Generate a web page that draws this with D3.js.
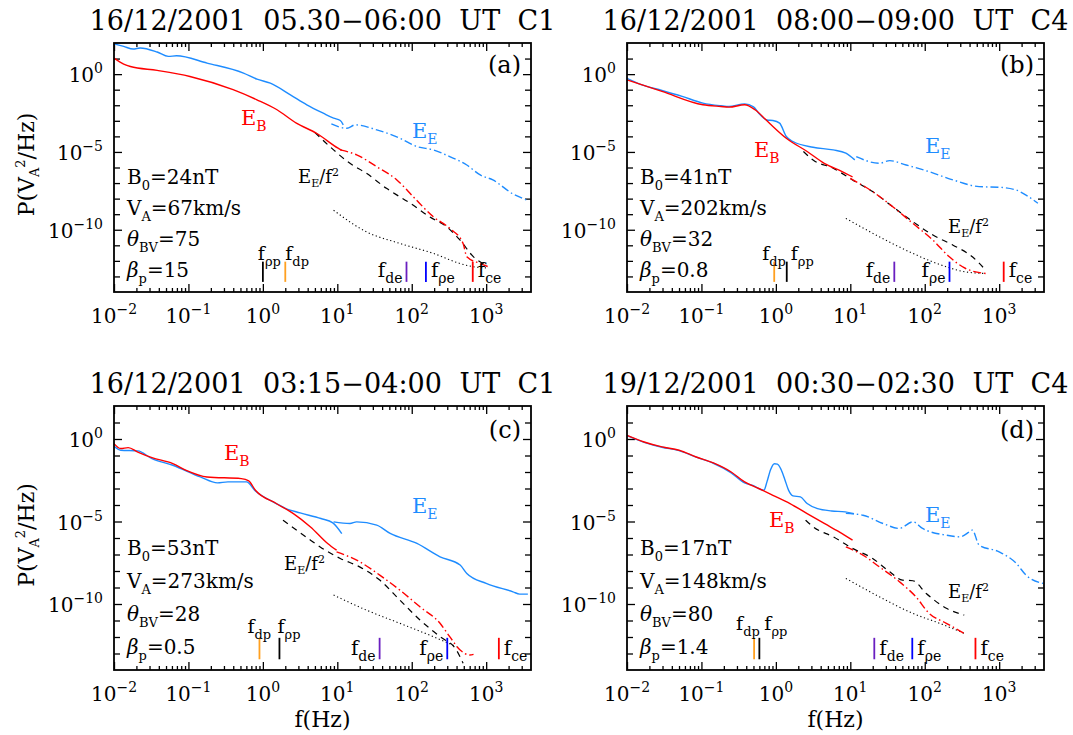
<!DOCTYPE html>
<html>
<head>
<meta charset="utf-8">
<script src="https://cdn.jsdelivr.net/npm/d3@7"></script>
<style>
  body { margin: 0; background: #fff; }
  svg { display: block; font-family: "DejaVu Serif", "Liberation Serif", serif; }
</style>
</head>
<body>
<div id="chart"></div>
<script>
"use strict";

/* global d3 */

// ---- data: pairs of [log10 f (Hz), log10 P (V_A^2/Hz)] ----

const titles = [
  "16/12/2001  05.30\u221206:00  UT  C1",
  "16/12/2001  08:00\u221209:00  UT  C4",
  "16/12/2001  03:15\u221204:00  UT  C1",
  "19/12/2001  00:30\u221202:30  UT  C4"
];
const tags = ["(a)", "(b)", "(c)", "(d)"];

const b0 = ["24", "41", "53", "17"];
const va = ["67", "202", "273", "148"];
const thetaBV = ["75", "32", "28", "80"];
const betaP = ["15", "0.8", "0.5", "1.4"];

// characteristic frequencies (Hz), order: f_rho_p, f_dp, f_de, f_rho_e, f_ce
const freqNames = ["\u03c1p", "dp", "de", "\u03c1e", "ce"];
const freqA = [1.0, 2.0, 85, 155, 660];
const freqB = [1.4, 0.95, 39, 215, 1150];
const freqC = [1.67, 0.9, 37, 300, 1480];
const freqD = [0.6, 0.51, 21, 68, 480];

// panel (a)
const ebSolidA = [[-2, 1.03], [-1.87, 0.65], [-1.78, 0.49], [-1.42, 0.24], [-0.98, -0.15], [-0.4, -1.0],
  [-0.08, -1.65], [0.19, -2.29], [0.45, -3.15], [0.72, -3.8], [1.01, -4.76], [1.06, -4.9]];
const ebDashA = [[1.04, -4.87], [1.26, -5.19], [1.53, -5.95], [1.8, -6.8], [2.02, -7.88], [2.29, -9.17],
  [2.51, -9.91], [2.69, -10.88], [2.74, -11.74], [2.92, -12.17], [3.03, -12.38]];
const eeSolidA = [[-2, 1.95], [-1.87, 1.78], [-1.74, 1.61], [-1.65, 1.68], [-1.42, 1.42], [-1.27, 1.14],
  [-1.16, 1.18], [-0.75, 0.71], [-0.26, 0.07], [-0.08, -0.32], [0.1, -0.58], [0.37, -1.33], [0.59, -1.97],
  [0.81, -2.51], [0.95, -2.83], [1.04, -2.98], [1.08, -3.26]];
const eeHighA = [[0.92, -3.2], [1.13, -3.48], [1.24, -3.26], [1.53, -3.58], [1.84, -4.12], [2.07, -4.66],
  [2.29, -4.87], [2.51, -5.3], [2.74, -5.84], [2.92, -6.48], [3.09, -6.8], [3.36, -7.7], [3.55, -8.1]];
const ef2A = [[0.7, -3.75], [0.95, -4.87], [1.17, -5.73], [1.39, -6.37], [1.66, -7.34], [1.98, -8.3],
  [2.24, -9.17], [2.47, -9.81], [2.65, -10.67], [2.83, -11.74], [3.0, -12.27]];
const noiseA = [[0.95, -8.75], [1.39, -10.13], [1.84, -10.88], [2.29, -11.52], [2.65, -12.17], [2.83, -12.38],
  [3.0, -12.45]];

// panel (b)
const ebSolidB = [[-2, -0.37], [-1.53, -1.11], [-0.98, -1.97], [-0.74, -2.08], [-0.63, -2.12], [-0.42, -1.97],
  [-0.28, -2.29], [-0.14, -2.9], [-0.04, -3.36], [0.14, -4.12], [0.42, -4.97], [0.65, -5.73], [0.89, -6.26],
  [1.03, -6.6]];
const ebDashB = [[1.0, -6.7], [1.3, -7.55], [1.57, -8.52], [1.84, -9.59], [2.11, -10.67], [2.33, -11.74],
  [2.55, -12.49], [2.82, -12.81]];
const eeSolidB = [[-2, -0.28], [-1.81, -0.68], [-1.53, -1.05], [-1.26, -1.43], [-0.98, -1.86], [-0.74, -2.03],
  [-0.63, -2.08], [-0.42, -1.91], [-0.3, -2.1], [-0.23, -2.51], [-0.12, -2.95], [-0.04, -2.98], [0.05, -3.15],
  [0.14, -4.01], [0.23, -4.33], [0.5, -4.7], [0.77, -4.87], [0.94, -5.08], [1.06, -5.51]];
const eeHighB = [[1.08, -5.3], [1.39, -5.73], [1.53, -5.56], [1.75, -5.84], [2.06, -6.27], [2.38, -6.8],
  [2.73, -7.23], [3.0, -7.27], [3.23, -7.45], [3.36, -7.77], [3.52, -8.3]];
const ef2B = [[0.37, -4.97], [0.5, -5.52], [0.77, -6.05], [1.03, -6.8], [1.3, -7.55], [1.57, -8.52],
  [1.84, -9.48], [2.11, -10.34], [2.38, -10.99], [2.64, -11.74], [2.82, -12.6]];
const noiseB = [[0.94, -9.27], [1.39, -10.45], [1.84, -11.52], [2.29, -12.38], [2.55, -12.71], [2.82, -12.81]];

// panel (c)
const ebSolidC = [[-2, -0.28], [-1.91, -0.58], [-1.81, -0.52], [-1.68, -0.79], [-1.49, -1.13], [-1.21, -1.49],
  [-1.03, -1.9], [-0.75, -2.3], [-0.29, -2.4], [-0.19, -2.54], [-0.1, -3.11], [0.18, -3.91], [0.41, -4.52],
  [0.64, -5.33], [0.87, -6.33], [0.99, -6.74]];
const ebDashC = [[0.99, -6.84], [1.3, -7.44], [1.57, -8.25], [1.84, -9.16], [2.11, -10.17], [2.38, -11.17],
  [2.51, -11.98], [2.65, -12.79], [2.78, -13.09], [2.83, -13.05]];
const eeSolidC = [[-2, -0.44], [-1.91, -0.68], [-1.68, -0.72], [-1.49, -1.19], [-1.21, -1.59], [-0.84, -2.3],
  [-0.61, -2.66], [-0.47, -2.6], [-0.22, -2.6], [-0.1, -3.15], [0.18, -3.91], [0.31, -4.22], [0.5, -4.48],
  [0.78, -4.82], [0.94, -5.08], [1.06, -5.73]];
const eeHighC = [[0.95, -5.02], [1.17, -5.12], [1.26, -5.02], [1.53, -5.22], [1.71, -5.72], [2.07, -6.33],
  [2.38, -7.14], [2.65, -7.64], [2.74, -8.15], [3.0, -8.75], [3.36, -9.26], [3.45, -9.4], [3.56, -9.4]];
const ef2C = [[0.27, -4.92], [0.64, -6.13], [0.77, -6.54], [1.04, -7.24], [1.3, -7.75], [1.57, -8.55],
  [1.84, -9.76], [2.11, -10.97], [2.38, -11.98], [2.6, -12.79], [2.69, -13.59]];
const noiseC = [[0.95, -9.46], [1.39, -10.37], [1.84, -11.17], [2.29, -11.98], [2.6, -12.59]];

// panel (d)
const ebSolidD = [[-2, 0.22], [-1.77, -0.18], [-1.53, -0.48], [-1.3, -0.68], [-1.07, -1.09], [-0.84, -1.45],
  [-0.6, -2.0], [-0.42, -2.6], [-0.23, -3.0], [-0.04, -3.41], [0.19, -3.91], [0.42, -4.52], [0.65, -5.12],
  [0.89, -5.73], [1.03, -6.13]];
const ebDashD = [[0.94, -6.54], [1.17, -7.04], [1.39, -7.75], [1.66, -8.65], [1.88, -9.56], [2.06, -10.57],
  [2.29, -11.17], [2.53, -11.78]];
const eeSolidD = [[-2, 0.2], [-1.77, -0.2], [-1.53, -0.5], [-1.3, -0.7], [-1.07, -1.1], [-0.84, -1.47],
  [-0.6, -2.05], [-0.42, -2.66], [-0.32, -2.8], [-0.16, -3.1], [-0.12, -2.6], [-0.07, -1.85], [-0.02, -1.5],
  [0.02, -1.52], [0.07, -1.85], [0.12, -2.45], [0.17, -3.1], [0.23, -3.45], [0.33, -3.51], [0.42, -3.91],
  [0.56, -4.22], [0.75, -4.36], [0.93, -4.42], [1.05, -4.52]];
const eeHighD = [[0.94, -4.51], [1.17, -4.62], [1.44, -5.12], [1.66, -5.42], [1.84, -5.02], [1.97, -5.42],
  [2.29, -5.83], [2.47, -5.93], [2.6, -5.63], [2.64, -5.52], [2.73, -6.43], [3.0, -6.84], [3.23, -7.54],
  [3.36, -8.25], [3.59, -8.75]];
const ef2D = [[0.4, -4.92], [0.5, -5.32], [0.77, -5.93], [1.03, -6.63], [1.3, -7.24], [1.53, -8.05],
  [1.7, -8.55], [1.84, -8.59], [2.02, -9.36], [2.29, -10.26], [2.53, -10.67]];
const noiseD = [[0.94, -8.45], [1.39, -9.56], [1.84, -10.57], [2.2, -11.17], [2.53, -11.78]];

// axis ticks
const xMajor = [1e-2, 1e-1, 1e0, 1e1, 1e2, 1e3];
const xTickExp = ["\u22122", "\u22121", "0", "1", "2", "3"];
const yMajor = [1e0, 1e-5, 1e-10];
const yTickExp = ["0", "\u22125", "\u221210"];

// ---- layout / style ----
const W = 1073, H = 735;
const panelW = 417;
const boxes = [
  { x: 114, y: 43, h: 249 },
  { x: 627, y: 43, h: 249 },
  { x: 114, y: 406, h: 264 },
  { x: 627, y: 406, h: 264 }
];
const RED = "#ff0000", BLUE = "#1e8cff";
const freqColors = ["#000000", "#ffa020", "#6a1fc0", "#0000ff", "#ff0000"];

const panels = [
  { eb: ebSolidA, ebD: ebDashA, ee: eeSolidA, eeH: eeHighA, eeHSolid: false, ef2: ef2A, noise: noiseA, freq: freqA,
    lab: { eb: [127, 82], ee: [298, 95], ef2: [184, 140] },
    low: [[0, -5], [1, 0]], lowDy: -32, high: ["end", "start", "start"] },
  { eb: ebSolidB, ebD: ebDashB, ee: eeSolidB, eeH: eeHighB, eeHSolid: false, ef2: ef2B, noise: noiseB, freq: freqB,
    lab: { eb: [127, 114], ee: [298, 110], ef2: [321, 190] },
    low: [[1, -12], [0, 4]], lowDy: -32, high: ["end", "end", "start"] },
  { eb: ebSolidC, ebD: ebDashC, ee: eeSolidC, eeH: eeHighC, eeHSolid: true, ef2: ef2C, noise: noiseC, freq: freqC,
    lab: { eb: [110, 54], ee: [298, 107], ef2: [170, 164] },
    low: [[1, -12], [0, -2]], lowDy: -37, high: ["end", "end", "start"] },
  { eb: ebSolidD, ebD: ebDashD, ee: eeSolidD, eeH: eeHighD, eeHSolid: false, ef2: ef2D, noise: noiseD, freq: freqD,
    lab: { eb: [142, 121], ee: [298, 116], ef2: [321, 192] },
    low: [[1, -18], [0, 5]], lowDy: -40, high: ["start", "start", "start"] }
];

const svg = d3.select("#chart").append("svg")
  .attr("width", W)
  .attr("height", H);

// writes a text made of runs, each run normal / sub / sup
function rich(text, parts, small, subDy, supDy) {
  let cur = 0;
  parts.forEach(p => {
    let kind = p[1];
    let target = kind === "sub" ? subDy : kind === "sup" ? -supDy : 0;
    let t = text.append("tspan")
      .attr("dy", target - cur)
      .text(p[0]);
    if (kind) t.attr("font-size", small);
    if (p[2]) t.attr("font-style", "italic");
    cur = target;
  });
  return text;
}

function drawPanel(p, i) {
  let box = boxes[i];
  let h = box.h;
  let g = svg.append("g").attr("transform", "translate(" + box.x + "," + box.y + ")");

  let x = d3.scaleLog().domain([0.01, 4000]).range([0, panelW]);
  let y = d3.scaleLog().domain([1e-14, 1e2]).range([h, 0]);

  let line = d3.line()
    .x(d => x(Math.pow(10, d[0])))
    .y(d => y(Math.pow(10, d[1])))
    .curve(d3.curveMonotoneX);

  // title
  svg.append("text")
    .attr("x", box.x + panelW / 2 - 233)
    .attr("y", box.y - 13)
    .attr("font-size", 27)
    .attr("textLength", 466)
    .attr("lengthAdjust", "spacing")
    .style("white-space", "pre")
    .text(titles[i]);

  // ticks (inward, on all four sides)
  let xMinor = [];
  for (let e = -2; e <= 3; e++) {
    for (let m = 2; m <= 9; m++) {
      let v = m * Math.pow(10, e);
      if (v < 4000) xMinor.push(v);
    }
  }
  let yMinor = d3.range(-13, 2).map(e => Math.pow(10, e)).filter(v => yMajor.indexOf(v) < 0);

  let axes = g.append("g").attr("class", "ticks");
  let addAxis = (gen, vals, size, tx, ty) => {
    let a = axes.append("g")
      .attr("transform", "translate(" + tx + "," + ty + ")")
      .call(gen.tickValues(vals).tickSize(-size).tickFormat(""));
    a.select(".domain").remove();
    a.selectAll("line").attr("stroke", "#000").attr("stroke-width", 1.3);
  };
  addAxis(d3.axisBottom(x), xMajor, 8, 0, h);
  addAxis(d3.axisBottom(x), xMinor, 4, 0, h);
  addAxis(d3.axisTop(x), xMajor, 8, 0, 0);
  addAxis(d3.axisTop(x), xMinor, 4, 0, 0);
  addAxis(d3.axisLeft(y), yMajor, 8, 0, 0);
  addAxis(d3.axisLeft(y), yMinor, 6, 0, 0);
  addAxis(d3.axisRight(y), yMajor, 8, panelW, 0);
  addAxis(d3.axisRight(y), yMinor, 6, panelW, 0);

  // tick labels
  xMajor.forEach((v, k) => {
    rich(g.append("text")
      .attr("x", x(v))
      .attr("y", h + 31)
      .attr("font-size", 20)
      .attr("text-anchor", "middle"), [["10"], [xTickExp[k], "sup"]], 14, 0, 9);
  });
  yMajor.forEach((v, k) => {
    rich(g.append("text")
      .attr("x", -11)
      .attr("y", y(v) + 8)
      .attr("font-size", 20)
      .attr("text-anchor", "end"), [["10"], [yTickExp[k], "sup"]], 14, 0, 9);
  });

  // axis titles
  if (i % 2 === 0) {
    rich(svg.append("text")
      .attr("transform", "translate(34," + (box.y + h / 2 - 3) + ") rotate(-90)")
      .attr("font-size", 22)
      .attr("text-anchor", "middle"),
      [["P(V"], ["A", "sub"], ["2", "sup"], ["/Hz)"]], 13, 5, 9);
  }
  if (i >= 2) {
    svg.append("text")
      .attr("x", box.x + panelW / 2)
      .attr("y", box.y + h + 57)
      .attr("font-size", 22)
      .attr("text-anchor", "middle")
      .text("f(Hz)");
  }

  // spectra
  let curve = (data, color, dash, width) => {
    g.append("path")
      .datum(data)
      .attr("d", line)
      .attr("fill", "none")
      .attr("stroke", color)
      .attr("stroke-width", width || 1.4)
      .attr("stroke-dasharray", dash || null);
  };
  let dashDot = "8,3,1.5,3";
  curve(p.noise, "#000", "1.2,2.6", 1.1);
  curve(p.ef2, "#000", "6,5", 1.2);
  curve(p.eeH, BLUE, p.eeHSolid ? null : dashDot);
  curve(p.ee, BLUE);
  curve(p.ebD, RED, dashDot);
  curve(p.eb, RED);

  // characteristic frequency markers
  let mTop = y(Math.pow(10, -12.05));
  let mBot = y(Math.pow(10, -13.35));
  p.freq.forEach((f, k) => {
    g.append("line")
      .attr("x1", x(f)).attr("x2", x(f))
      .attr("y1", mTop).attr("y2", mBot)
      .attr("stroke", freqColors[k])
      .attr("stroke-width", 1.8);
  });
  p.low.forEach(l => {
    rich(g.append("text")
      .attr("x", x(p.freq[l[0]]) + l[1])
      .attr("y", h + p.lowDy)
      .attr("font-size", 19), [["f"], [freqNames[l[0]], "sub"]], 13, 6, 0);
  });
  p.high.forEach((anchor, k) => {
    let idx = k + 2;
    rich(g.append("text")
      .attr("x", x(p.freq[idx]) + (anchor === "end" ? -4 : 5))
      .attr("y", h - 15)
      .attr("font-size", 20)
      .attr("text-anchor", anchor), [["f"], [freqNames[idx], "sub"]], 14, 6, 0);
  });

  // curve labels
  rich(g.append("text").attr("x", p.lab.eb[0]).attr("y", p.lab.eb[1])
    .attr("font-size", 21).attr("fill", RED), [["E"], ["B", "sub"]], 14, 6, 0);
  rich(g.append("text").attr("x", p.lab.ee[0]).attr("y", p.lab.ee[1])
    .attr("font-size", 21).attr("fill", BLUE), [["E"], ["E", "sub"]], 14, 6, 0);
  rich(g.append("text").attr("x", p.lab.ef2[0]).attr("y", p.lab.ef2[1])
    .attr("font-size", 18), [["E"], ["E", "sub"], ["/f", null], ["2", "sup"]], 11, 4, 7);

  // plasma parameters
  let py = h * 0.565, step = h * 0.125;
  let lines = [
    [["B"], ["0", "sub"], ["=" + b0[i] + "nT"]],
    [["V"], ["A", "sub"], ["=" + va[i] + "km/s"]],
    [["\u03b8", null, true], ["BV", "sub"], ["=" + thetaBV[i]]],
    [["\u03b2", null, true], ["p", "sub"], ["=" + betaP[i]]]
  ];
  lines.forEach((parts, k) => {
    rich(g.append("text")
      .attr("x", 13)
      .attr("y", py + k * step)
      .attr("font-size", 20), parts, 13, 6, 0);
  });

  // panel tag
  g.append("text")
    .attr("x", panelW - 10)
    .attr("y", h * 0.12)
    .attr("font-size", 24)
    .attr("text-anchor", "end")
    .text(tags[i]);

  // frame
  g.append("rect")
    .attr("width", panelW)
    .attr("height", h)
    .attr("fill", "none")
    .attr("stroke", "#000")
    .attr("stroke-width", 1.8);
}

panels.forEach(drawPanel);
</script>
</body>
</html>
